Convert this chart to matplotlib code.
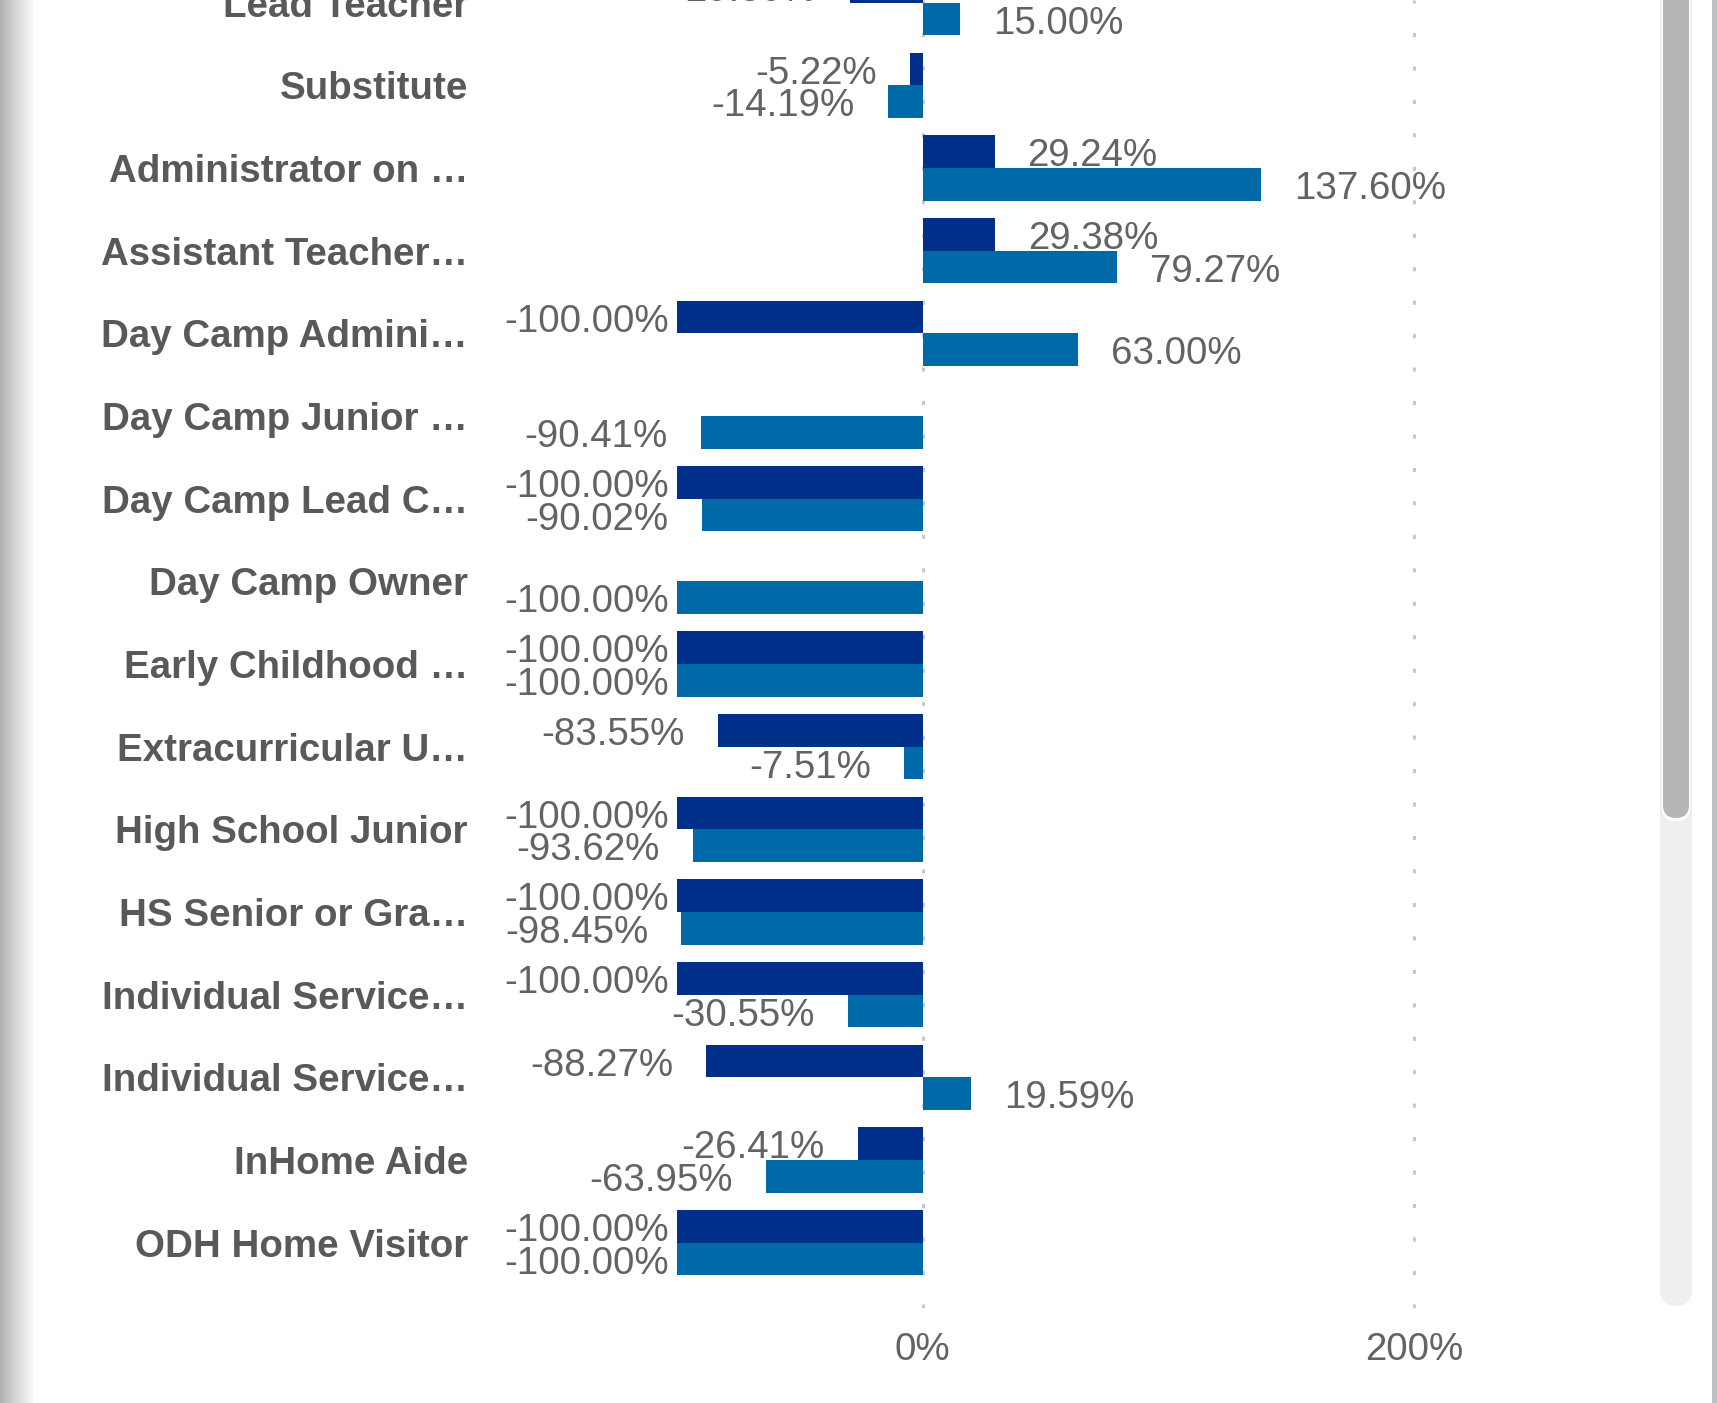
import numpy as np
import matplotlib
matplotlib.use('Agg')
import matplotlib.pyplot as plt
from matplotlib.patches import FancyBboxPatch, Rectangle

plt.rcParams['font.family'] = ['Liberation Sans', 'DejaVu Sans']

categories = ['Lead Teacher', 'Substitute', 'Administrator on \u2026', 'Assistant Teacher\u2026',
              'Day Camp Admini\u2026', 'Day Camp Junior \u2026', 'Day Camp Lead C\u2026',
              'Day Camp Owner', 'Early Childhood \u2026', 'Extracurricular U\u2026',
              'High School Junior', 'HS Senior or Gra\u2026', 'Individual Service\u2026',
              'Individual Service\u2026', 'InHome Aide', 'ODH Home Visitor']
# first series (dark), None = no bar
series_a = [-29.80, -5.22, 29.24, 29.38, -100.00, None, -100.00, None,
            -100.00, -83.55, -100.00, -100.00, -100.00, -88.27, -26.41, -100.00]
# second series (light)
series_b = [15.00, -14.19, 137.60, 79.27, 63.00, -90.41, -90.02, -100.00,
            -100.00, -7.51, -93.62, -98.45, -30.55, 19.59, -63.95, -100.00]
xtick_vals = [0, 200]
xtick_labels = ['0%', '200%']

W, H, DPI = 1717, 1403, 100
dark = '#00308a'
light = '#0069a7'
txt_grey = '#636363'
lab_grey = '#595959'
fs = 27.7

fig = plt.figure(figsize=(W / DPI, H / DPI), dpi=DPI)
fig.patch.set_facecolor('white')

# plot area in pixels
L, R, T, B = 504, 1650, 0, 1308
zero_px, px_per_100 = 922.8, 245.6
row0, row_step = 2.7, 82.67
ax = fig.add_axes([L / W, 1 - B / H, (R - L) / W, (B - T) / H])
ax.set_xlim((L - zero_px) / px_per_100 * 100, (R - zero_px) / px_per_100 * 100)
ax.set_ylim((B - row0) / row_step, (T - row0) / row_step)

y = np.arange(len(categories))
bh = 0.395
ya = y - bh / 2
yb = y + bh / 2
va = np.array([np.nan if v is None else v for v in series_a])
vb = np.array(series_b)
ax.barh(ya, np.nan_to_num(va), height=bh, color=dark, zorder=3)
ax.barh(yb, vb, height=bh, color=light, zorder=3)

ax.set_yticks(y)
ax.set_yticklabels(categories, fontsize=fs, fontweight='bold', color=lab_grey)
ax.set_xticks(xtick_vals)
ax.set_xticklabels(xtick_labels, fontsize=fs, color=txt_grey)
ax.tick_params(axis='y', length=0, pad=26)
ax.tick_params(axis='x', length=0, pad=17)
for s in ax.spines.values():
    s.set_visible(False)
ax.xaxis.grid(True, color='#c8c8c8', linewidth=2.2, linestyle=(0, (1.35, 9.6)), zorder=0)
ax.set_axisbelow(True)

gap, drop = 33, -4.5
neg_texts = []
for vals, ys in ((va, ya), (vb, yb)):
    for v, yy in zip(vals, ys):
        if np.isnan(v):
            continue
        if v >= 0:
            ax.annotate(f'{v:.2f}%', xy=(v, yy), xytext=(gap, drop), textcoords='offset pixels',
                        ha='left', va='center', fontsize=fs, color=txt_grey,
                        annotation_clip=False)
        else:
            t = ax.annotate(f'{v:.2f}%', xy=(v, yy), xytext=(-gap, drop), textcoords='offset pixels',
                            ha='right', va='center', fontsize=fs, color=txt_grey,
                            annotation_clip=False)
            neg_texts.append(t)

# keep negative labels inside the plot area
fig.canvas.draw()
r = fig.canvas.get_renderer()
for t in neg_texts:
    bb = t.get_window_extent(r)
    if bb.x0 < L:
        dx, dy = t.xyann
        t.xyann = (dx + (L - bb.x0), dy)

# page decoration: left shadow, scrollbar, right border
sh = fig.add_axes([0, 0, 32 / W, 1])
grad = np.linspace(0, 1, 64)[None, :]
sh.imshow(grad, aspect='auto', cmap=matplotlib.colors.LinearSegmentedColormap.from_list(
    'sh', ['#b0b0b0', '#d8d8d8', '#f7f7f7']), extent=(0, 1, 0, 1))
sh.axis('off')

def fig_box(x0, y0, x1, y1, color, rad):
    p = FancyBboxPatch((x0 / W, 1 - y1 / H), (x1 - x0) / W, (y1 - y0) / H,
                       boxstyle=f'round,pad=0,rounding_size={rad / W}',
                       transform=fig.transFigure, facecolor=color, edgecolor='none',
                       mutation_aspect=W / H)
    fig.patches.append(p)

fig_box(1660, -40, 1692, 1306, '#efefef', 16)
fig_box(1662, -40, 1690, 821, '#ffffff', 14)
fig_box(1663, -40, 1689, 818, '#b6b6b6', 13)
fig.patches.append(Rectangle((1712 / W, 0), 5 / W, 1, transform=fig.transFigure,
                             facecolor='#bdc1c5', edgecolor='none'))

fig.savefig('out.png', dpi=DPI)
